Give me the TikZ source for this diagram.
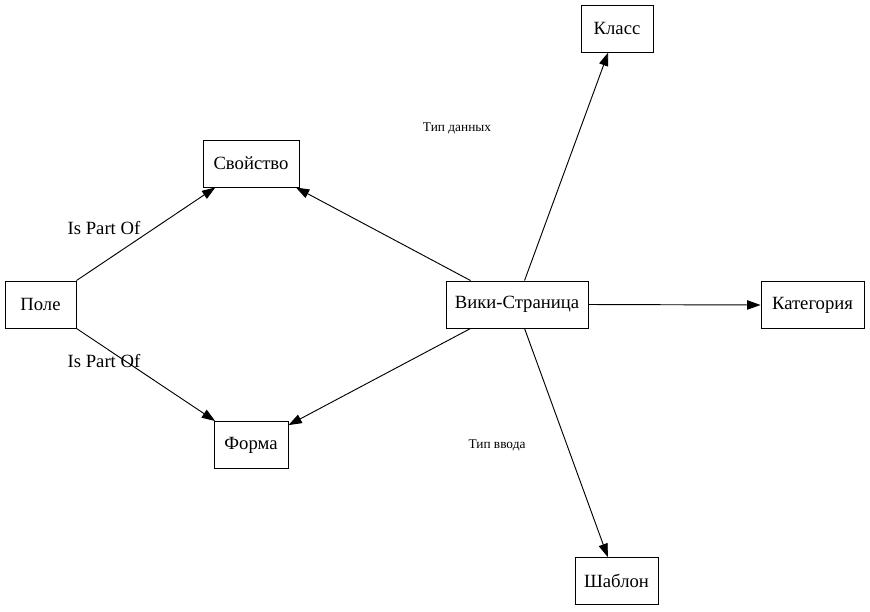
\documentclass[tikz,border=0pt]{standalone}
\usepackage{fontspec}
\setmainfont{Liberation Serif}
\usetikzlibrary{arrows.meta}
\begin{document}
\begin{tikzpicture}[x=0.75pt,y=-0.75pt,
  box/.style={draw,line width=0.7pt,minimum height=35.25pt,inner sep=0pt,font=\fontsize{14pt}{16pt}\selectfont},
  lbl/.style={font=\fontsize{14pt}{16pt}\selectfont,inner sep=0pt},
  slbl/.style={font=\fontsize{10pt}{12pt}\selectfont,inner sep=0pt},
  edge/.style={line width=0.7pt,-{Triangle[length=10pt,width=7pt]}}]
\useasboundingbox (0,0) rectangle (870,611);
\node[box,minimum width=53.25pt] (pole) at (40.5,304.5) {Поле};
\node[box,minimum width=72pt] (svo) at (251,163.5) {Свойство};
\node[box,minimum width=55.5pt] (forma) at (251,445) {Форма};
\node[box,minimum width=106.5pt] (wiki) at (517,304.5) {Вики-Страница};
\node[box,minimum width=54pt] (klass) at (617,28.5) {Класс};
\node[box,minimum width=77.25pt] (kat) at (812.5,305) {Категория};
\node[box,minimum width=62.25pt] (shab) at (616.5,581) {Шаблон};
\draw[edge] (pole.north east) -- (svo);
\draw[edge] (pole.south east) -- (forma);
\draw[edge] ([xshift=18.75pt]wiki.north west) -- (svo);
\draw[edge] ([xshift=18.75pt]wiki.south west) -- (forma);
\draw[edge] ([xshift=59.25pt]wiki.north west) -- (klass);
\draw[edge] ([xshift=59.25pt]wiki.south west) -- (shab);
\draw[edge] (wiki.east) -- (kat.west);
\node[lbl] (l1) at (104,228) {Is Part Of};
\node[lbl] (l2) at (104,361) {Is Part Of};
\node[slbl] (l3) at (457,128) {Тип данных};
\node[slbl] (l4) at (497,445) {Тип ввода};
\end{tikzpicture}
\end{document}
